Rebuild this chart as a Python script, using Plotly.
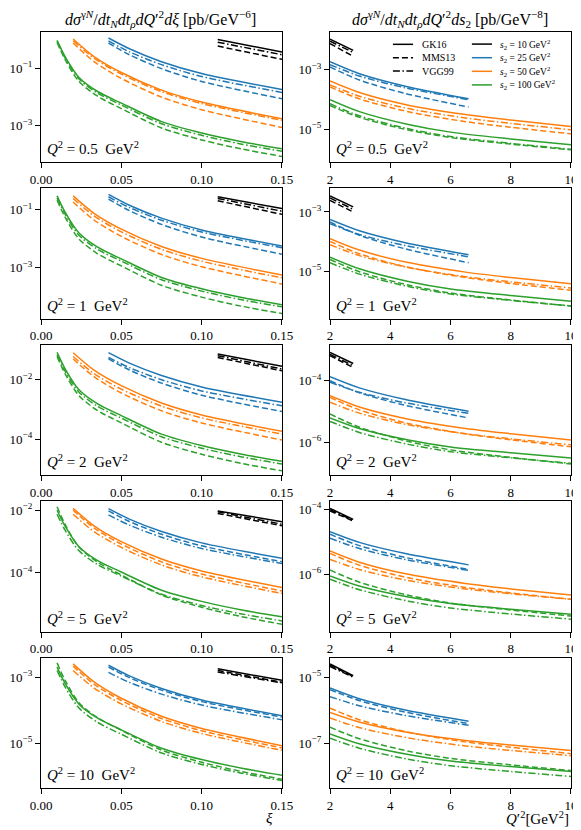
import plotly.graph_objects as go
from plotly.subplots import make_subplots

# x grids (xi for left column, Q'^2 for right column), one per s2 curve
XI_K = [0.11, 0.15]
XI_B = [0.042, 0.055, 0.075, 0.1, 0.15]
XI_O = [0.02, 0.033, 0.05, 0.075, 0.1, 0.15]
XI_G = [0.01, 0.015, 0.0235, 0.035, 0.05, 0.075, 0.1, 0.125, 0.15]
QP_K = [2.0, 2.77]
QP_B = [2.0, 3.0, 4.5, 6.6]
QP_O = [2.0, 3.0, 4.6, 6.5, 8.0, 10.0]
QP_G = [2.0, 3.0, 4.6, 6.0, 8.0, 10.0]

# d sigma / ... d xi  -- rows are s2 = 10, 25, 50, 100 GeV^2
xi05_gk16 = [[0.98, 0.36], [1.11, 0.47, 0.166, 0.064, 0.0178],
             [1.02, 0.25, 0.0695, 0.017, 6.5e-3, 1.7e-3],
             [0.92, 0.25, 0.048, 0.0155, 5.96e-3, 1.36e-3, 5.46e-4, 2.72e-4, 1.55e-4]]
xi05_mms13 = [[0.58, 0.20], [0.741, 0.29, 0.095, 0.034, 8.5e-3],
              [0.741, 0.167, 0.0432, 9.7e-3, 3.52e-3, 8.5e-4],
              [0.776, 0.197, 0.0347, 0.0106, 3.86e-3, 8.17e-4, 3.13e-4, 1.51e-4, 8.3e-5]]
xi05_vgg99 = [[0.79, 0.29], [0.87, 0.366, 0.131, 0.0507, 0.0141],
              [0.891, 0.219, 0.0612, 0.015, 5.78e-3, 1.51e-3],
              [0.851, 0.226, 0.0425, 0.0135, 5.12e-3, 1.14e-3, 4.52e-4, 2.23e-4, 1.26e-4]]

xi1_gk16 = [[0.275, 0.107], [0.331, 0.140, 0.0502, 0.0196, 5.5e-3],
            [0.295, 0.074, 0.021, 5.3e-3, 2.06e-3, 5.5e-4],
            [0.295, 0.0807, 0.0157, 5.1e-3, 1.97e-3, 4.54e-4, 1.84e-4, 9.2e-5, 5.2e-5]]
xi1_mms13 = [[0.20, 0.068], [0.229, 0.0914, 0.0306, 0.0112, 2.88e-3],
             [0.182, 0.0434, 0.0118, 2.81e-3, 1.06e-3, 2.7e-4],
             [0.209, 0.0541, 9.8e-3, 3.03e-3, 1.13e-3, 2.44e-4, 9.5e-5, 4.6e-5, 2.57e-5]]
xi1_vgg99 = [[0.24, 0.087], [0.275, 0.117, 0.0427, 0.0168, 4.8e-3],
             [0.24, 0.0598, 0.0169, 4.2e-3, 1.64e-3, 4.4e-4],
             [0.251, 0.0686, 0.0132, 4.3e-3, 1.66e-3, 3.8e-4, 1.53e-4, 7.7e-5, 4.4e-5]]

xi2_gk16 = [[0.0741, 0.0282], [0.0813, 0.0362, 0.0139, 5.7e-3, 1.74e-3],
            [0.0813, 0.0212, 6.3e-3, 1.64e-3, 6.5e-4, 1.82e-4],
            [0.0832, 0.0234, 4.7e-3, 1.57e-3, 6.2e-4, 1.47e-4, 6.05e-5, 3.08e-5, 1.78e-5]]
xi2_mms13 = [[0.0562, 0.020], [0.0501, 0.0213, 7.7e-3, 3.01e-3, 8.5e-4],
             [0.0501, 0.0126, 3.57e-3, 8.97e-4, 3.49e-4, 9.3e-5],
             [0.0603, 0.0159, 2.96e-3, 9.3e-4, 3.52e-4, 7.8e-5, 3.08e-5, 1.51e-5, 8.5e-6]]
xi2_vgg99 = [[0.0646, 0.0229], [0.0562, 0.0256, 0.0100, 4.2e-3, 1.32e-3],
             [0.0603, 0.0161, 4.8e-3, 1.29e-3, 5.2e-4, 1.48e-4],
             [0.0692, 0.0194, 3.88e-3, 1.29e-3, 5.1e-4, 1.2e-4, 4.94e-5, 2.51e-5, 1.45e-5]]

xi5_gk16 = [[9.5e-3, 4.27e-3], [0.0112, 5.2e-3, 2.08e-3, 8.97e-4, 2.88e-4],
            [0.0115, 3.17e-3, 9.8e-4, 2.72e-4, 1.13e-4, 3.31e-5],
            [0.010, 3.07e-3, 6.9e-4, 2.47e-4, 1.04e-4, 2.72e-5, 1.19e-5, 6.3e-6, 3.8e-6]]
xi5_mms13 = [[7.9e-3, 3.16e-3], [9.5e-3, 4.35e-3, 1.7e-3, 7.2e-4, 2.24e-4],
             [0.010, 2.69e-3, 8.2e-4, 2.2e-4, 9.0e-5, 2.57e-5],
             [0.0129, 3.5e-3, 6.7e-4, 2.18e-4, 8.4e-5, 1.91e-5, 7.7e-6, 3.85e-6, 2.19e-6]]
xi5_vgg99 = [[8.9e-3, 3.55e-3], [7.1e-3, 3.33e-3, 1.36e-3, 5.94e-4, 1.95e-4],
             [7.4e-3, 2.05e-3, 6.4e-4, 1.75e-4, 7.3e-5, 2.14e-5],
             [7.4e-3, 2.28e-3, 5.1e-4, 1.83e-4, 7.7e-5, 2.02e-5, 8.8e-6, 4.7e-6, 2.82e-6]]

xi10_gk16 = [[1.82e-3, 8.1e-4], [2.34e-3, 1.11e-3, 4.59e-4, 2.03e-4, 6.8e-5],
             [2.57e-3, 7.3e-4, 2.31e-4, 6.5e-5, 2.77e-5, 8.3e-6],
             [2.04e-3, 6.5e-4, 1.55e-4, 5.8e-5, 2.52e-5, 6.95e-6, 3.14e-6, 1.71e-6, 1.05e-6]]
xi10_mms13 = [[1.62e-3, 7.1e-4], [2.04e-3, 9.8e-4, 4.08e-4, 1.82e-4, 6.2e-5],
              [2.19e-3, 6.2e-4, 1.97e-4, 5.6e-5, 2.36e-5, 7.1e-6],
              [2.75e-3, 8.1e-4, 1.72e-4, 5.97e-5, 2.44e-5, 6.1e-6, 2.59e-6, 1.35e-6, 7.9e-7]]
xi10_vgg99 = [[1.45e-3, 6.8e-4], [1.41e-3, 7.05e-4, 3.08e-4, 1.43e-4, 5.1e-5],
              [1.62e-3, 4.73e-4, 1.55e-4, 4.52e-5, 1.95e-5, 6.0e-6],
              [1.62e-3, 5.1e-4, 1.18e-4, 4.32e-5, 1.85e-5, 4.98e-6, 2.22e-6, 1.2e-6, 7.2e-7]]

# d sigma / ... d s2
qp05_gk16 = [[0.0107, 4.47e-3], [1.86e-3, 7.2e-4, 2.79e-4, 1.05e-4],
             [4.17e-4, 1.67e-4, 6.4e-5, 3.08e-5, 2.01e-5, 1.23e-5],
             [9.8e-5, 3.8e-5, 1.43e-5, 7.9e-6, 4.66e-6, 2.95e-6]]
qp05_mms13 = [[7.6e-3, 2.82e-3], [1.23e-3, 4.4e-4, 1.58e-4, 5.5e-5],
              [2.63e-4, 1.02e-4, 3.83e-5, 1.78e-5, 1.15e-5, 6.9e-6],
              [6.2e-5, 2.44e-5, 9.3e-6, 5.2e-6, 3.12e-6, 2.0e-6]]
qp05_vgg99 = [[9.1e-3, 3.8e-3], [1.48e-3, 6.0e-4, 2.46e-4, 9.8e-5],
              [3.09e-4, 1.25e-4, 4.9e-5, 2.36e-5, 1.55e-5, 9.5e-6],
              [7.1e-5, 2.74e-5, 1.02e-5, 5.6e-6, 3.3e-6, 2.09e-6]]

qp1_gk16 = [[3.47e-3, 1.48e-3], [5.6e-4, 2.28e-4, 9.2e-5, 3.63e-5],
            [1.26e-4, 5.1e-5, 1.97e-5, 9.4e-6, 6.2e-6, 3.8e-6],
            [3.02e-5, 1.2e-5, 4.57e-6, 2.55e-6, 1.53e-6, 9.8e-7]]
qp1_mms13 = [[2.45e-3, 1.0e-3], [4.57e-4, 1.61e-4, 5.7e-5, 1.95e-5],
             [1.02e-4, 3.81e-5, 1.36e-5, 6.2e-6, 3.9e-6, 2.29e-6],
             [2.51e-5, 9.5e-6, 3.44e-6, 1.86e-6, 1.08e-6, 6.8e-7]]
qp1_vgg99 = [[2.95e-3, 1.23e-3], [3.98e-4, 1.71e-4, 7.4e-5, 3.09e-5],
             [7.9e-5, 3.31e-5, 1.34e-5, 6.6e-6, 4.41e-6, 2.75e-6],
             [1.95e-5, 7.9e-6, 3.07e-6, 1.73e-6, 1.05e-6, 6.8e-7]]

qp2_gk16 = [[8.3e-4, 3.63e-4], [1.35e-4, 5.75e-5, 2.46e-5, 1.02e-5],
            [3.24e-5, 1.37e-5, 5.65e-6, 2.83e-6, 1.91e-6, 1.2e-6],
            [6.2e-6, 2.75e-6, 1.19e-6, 7.1e-7, 4.56e-7, 3.09e-7]]
qp2_mms13 = [[6.5e-4, 2.69e-4], [1.0e-4, 3.99e-5, 1.59e-5, 6.2e-6],
             [2.88e-5, 1.11e-5, 4.09e-6, 1.89e-6, 1.21e-6, 7.2e-7],
             [8.3e-6, 3.04e-6, 1.07e-6, 5.7e-7, 3.24e-7, 2.0e-7]]
qp2_vgg99 = [[7.2e-4, 3.09e-4], [8.9e-5, 4.14e-5, 1.92e-5, 8.7e-6],
             [2.0e-5, 8.7e-6, 3.71e-6, 1.9e-6, 1.3e-6, 8.3e-7],
             [4.79e-6, 2.06e-6, 8.6e-7, 5.0e-7, 3.14e-7, 2.09e-7]]

qp5_gk16 = [[1.07e-4, 4.9e-5], [2.04e-5, 9.4e-6, 4.34e-6, 1.95e-6],
            [5.25e-6, 2.32e-6, 9.98e-7, 5.2e-7, 3.55e-7, 2.29e-7],
            [8.9e-7, 4.28e-7, 2.0e-7, 1.26e-7, 8.4e-8, 5.9e-8]]
qp5_mms13 = [[8.9e-5, 4.37e-5], [1.7e-5, 7.5e-6, 3.29e-6, 1.41e-6],
             [4.37e-6, 1.87e-6, 7.8e-7, 3.95e-7, 2.67e-7, 1.7e-7],
             [1.35e-6, 5.6e-7, 2.26e-7, 1.3e-7, 8.0e-8, 5.2e-8]]
qp5_vgg99 = [[9.8e-5, 4.57e-5], [1.29e-5, 6.1e-6, 2.86e-6, 1.32e-6],
             [2.88e-6, 1.38e-6, 6.4e-7, 3.55e-7, 2.52e-7, 1.7e-7],
             [7.1e-7, 3.3e-7, 1.49e-7, 9.2e-8, 6.0e-8, 4.17e-8]]

qp10_gk16 = [[2.51e-5, 1.1e-5], [4.68e-6, 2.17e-6, 1.0e-6, 4.57e-7],
             [8.5e-7, 4.28e-7, 2.09e-7, 1.2e-7, 8.7e-8, 6.0e-8],
             [1.91e-7, 9.4e-8, 4.5e-8, 2.88e-8, 1.94e-8, 1.38e-8]]
qp10_mms13 = [[2.29e-5, 1.05e-5], [4.17e-6, 1.91e-6, 8.7e-7, 3.89e-7],
              [1.15e-6, 5.0e-7, 2.13e-7, 1.09e-7, 7.5e-8, 4.79e-8],
              [3.02e-7, 1.34e-7, 5.7e-8, 3.44e-8, 2.19e-8, 1.48e-8]]
qp10_vgg99 = [[2.09e-5, 1.0e-5], [2.57e-6, 1.33e-6, 6.9e-7, 3.47e-7],
              [5.75e-7, 2.91e-7, 1.43e-7, 8.2e-8, 6.0e-8, 4.17e-8],
              [1.41e-7, 6.9e-8, 3.25e-8, 2.07e-8, 1.38e-8, 9.8e-9]]

Q2_LABELS = ["0.5", "1", "2", "5", "10"]
S2_LABELS = ["10", "25", "50", "100"]
MODELS = ["GK16", "MMS13", "VGG99"]

LEFT = [(xi05_gk16, xi05_mms13, xi05_vgg99), (xi1_gk16, xi1_mms13, xi1_vgg99),
        (xi2_gk16, xi2_mms13, xi2_vgg99), (xi5_gk16, xi5_mms13, xi5_vgg99),
        (xi10_gk16, xi10_mms13, xi10_vgg99)]
RIGHT = [(qp05_gk16, qp05_mms13, qp05_vgg99), (qp1_gk16, qp1_mms13, qp1_vgg99),
         (qp2_gk16, qp2_mms13, qp2_vgg99), (qp5_gk16, qp5_mms13, qp5_vgg99),
         (qp10_gk16, qp10_mms13, qp10_vgg99)]
XI_GRIDS = [XI_K, XI_B, XI_O, XI_G]
QP_GRIDS = [QP_K, QP_B, QP_O, QP_G]

# axis ranges (log10) and labelled decades
YR_LEFT = [[-4.275, 0.254], [-4.76, -0.276], [-5.21, -0.83], [-5.89, -1.72], [-6.37, -2.41]]
YR_RIGHT = [[-6.11, -1.73], [-6.59, -2.21], [-7.06, -2.84], [-7.76, -3.76], [-8.36, -4.42]]
TK_LEFT = [[-1, -3], [-1, -3], [-2, -4], [-2, -4], [-3, -5]]
TK_RIGHT = [[-3, -5], [-3, -5], [-4, -6], [-4, -6], [-5, -7]]

COLORS = ["black", "#1f77b4", "#ff7f0e", "#2ca02c"]
DASHES = ["solid", "6px,3px", "7px,2.5px,1.5px,2.5px"]
FONT = "Liberation Serif"
LW = 1.5

fig = make_subplots(rows=5, cols=2, horizontal_spacing=0.0906, vertical_spacing=0.035)

for r in range(5):
    for c, (panel, grids) in enumerate([(LEFT[r], XI_GRIDS), (RIGHT[r], QP_GRIDS)]):
        for m, model in enumerate(panel):
            for k in range(4):
                fig.add_trace(go.Scatter(
                    x=grids[k], y=model[k], mode="lines", showlegend=False,
                    line=dict(color=COLORS[k], width=LW, dash=DASHES[m],
                              shape="spline", smoothing=0.8),
                    name=f"{MODELS[m]} s2={S2_LABELS[k]}"), row=r + 1, col=c + 1)

        yr = YR_LEFT[r] if c == 0 else YR_RIGHT[r]
        tk = TK_LEFT[r] if c == 0 else TK_RIGHT[r]
        fig.update_yaxes(type="log", range=yr, tickvals=[10.0 ** e for e in tk],
                         ticktext=[f"10<sup>\u2212{-e}</sup>" for e in tk],
                         row=r + 1, col=c + 1)
        if c == 0:
            fig.update_xaxes(range=[0, 0.15], tickvals=[0, 0.05, 0.10, 0.15],
                             ticktext=["0.00", "0.05", "0.10", "0.15"], row=r + 1, col=1)
        else:
            fig.update_xaxes(range=[2, 10], tickvals=[2, 4, 6, 8, 10], row=r + 1, col=2)

        idx = 2 * r + c + 1
        ax = "" if idx == 1 else str(idx)
        fig.add_annotation(
            x=0.015, y=0.02, xref=f"x{ax} domain", yref=f"y{ax} domain",
            xanchor="left", yanchor="bottom", showarrow=False,
            text=f"<i>Q</i><sup>2</sup> = {Q2_LABELS[r]}\u00a0\u00a0GeV<sup>2</sup>",
            font=dict(family=FONT, size=15, color="black"))

axis_style = dict(showline=True, linecolor="black", linewidth=1.3, mirror=True,
                  ticks="outside", ticklen=5, tickwidth=1.2, tickcolor="black",
                  showgrid=False, zeroline=False, automargin=False,
                  tickfont=dict(family=FONT, size=13, color="black"))
fig.update_xaxes(**axis_style)
fig.update_yaxes(**axis_style)

# column titles
fig.add_annotation(x=0.226, y=1.0175, xref="paper", yref="paper", showarrow=False,
                   xanchor="center", yanchor="middle",
                   text="<i>d\u03c3</i><sup>\u03b3<i>N</i></sup>/<i>dt<sub>N</sub>dt<sub>\u03c1</sub>dQ</i>\u2032<sup>2</sup><i>d\u03be</i> [pb/GeV<sup>\u22126</sup>]",
                   font=dict(family=FONT, size=16, color="black"))
fig.add_annotation(x=0.772, y=1.0175, xref="paper", yref="paper", showarrow=False,
                   xanchor="center", yanchor="middle",
                   text="<i>d\u03c3</i><sup>\u03b3<i>N</i></sup>/<i>dt<sub>N</sub>dt<sub>\u03c1</sub>dQ</i>\u2032<sup>2</sup><i>ds</i><sub>2</sub> [pb/GeV<sup>\u22128</sup>]",
                   font=dict(family=FONT, size=16, color="black"))

# axis labels under the last row
fig.add_annotation(x=0.432, y=-0.0397, xref="paper", yref="paper", showarrow=False,
                   xanchor="center", yanchor="middle", text="<i>\u03be</i>",
                   font=dict(family=FONT, size=15, color="black"))
fig.add_annotation(x=1.0, y=-0.0397, xref="paper", yref="paper", showarrow=False,
                   xanchor="right", yanchor="middle",
                   text="<i>Q</i>\u2032<sup>2</sup>[GeV<sup>2</sup>]",
                   font=dict(family=FONT, size=15, color="black"))

# hand-drawn legend inside the top right panel
style_rows = [0.9837, 0.966, 0.9484]
for m, yy in enumerate(style_rows):
    fig.add_shape(type="line", xref="paper", yref="paper", x0=0.664, x1=0.702, y0=yy, y1=yy,
                  line=dict(color="black", width=LW, dash=DASHES[m]))
    fig.add_annotation(x=0.716, y=yy, xref="paper", yref="paper", showarrow=False,
                       xanchor="left", yanchor="middle", text=MODELS[m],
                       font=dict(family=FONT, size=10, color="black"))
color_rows = [0.984, 0.966, 0.948, 0.930]
for k, yy in enumerate(color_rows):
    fig.add_shape(type="line", xref="paper", yref="paper", x0=0.813, x1=0.851, y0=yy, y1=yy,
                  line=dict(color=COLORS[k], width=LW))
    fig.add_annotation(x=0.862, y=yy, xref="paper", yref="paper", showarrow=False,
                       xanchor="left", yanchor="middle",
                       text=f"<i>s</i><sub>2</sub> = {S2_LABELS[k]} GeV<sup>2</sup>",
                       font=dict(family=FONT, size=9.5, color="black"))

# the page body puts the figure 8px in from the top-left corner of the window,
# so the figure is 8px smaller than the window and the margins are shifted
fig.update_layout(
    width=573, height=822,
    margin=dict(l=33, r=10, t=24, b=42),
    plot_bgcolor="white", paper_bgcolor="white",
    showlegend=False,
    font=dict(family=FONT, color="black"),
)

fig.write_html("out.html")
